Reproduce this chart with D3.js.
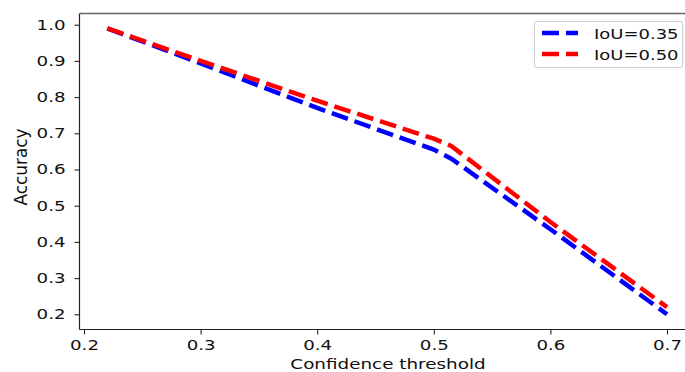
<!DOCTYPE html>
<html><head><meta charset="utf-8">
<script src="https://cdn.jsdelivr.net/npm/d3@7"></script>
<style>body{margin:0;background:#fff}svg{display:block}text{font-family:"DejaVu Sans",sans-serif;fill:#111}</style>
</head><body><svg id="c" width="685" height="372"></svg>
<script>
const thresholds = [0.22, 0.30, 0.40, 0.50, 0.515, 0.60, 0.70];
const acc035 = [0.99, 0.893, 0.77, 0.655, 0.63, 0.435, 0.20];
const acc050 = [0.99, 0.900, 0.79, 0.685, 0.665, 0.455, 0.22];
const seriesNames = ["IoU=0.35", "IoU=0.50"];
const seriesColors = ["#0000ff", "#ff0000"];
const xTicks = [0.2, 0.3, 0.4, 0.5, 0.6, 0.7];
const yTicks = [0.2, 0.3, 0.4, 0.5, 0.6, 0.7, 0.8, 0.9, 1.0];

const svg = d3.select("#c");
const L = 79.5, T = 13.5, B = 329.5, R = 720;
const x = d3.scaleLinear().domain([0.2, 0.7]).range([84, 667]);
const y = d3.scaleLinear().domain([0.2, 1.0]).range([314.3, 24.7]);

function stretch(sel, k){
  sel.each(function(){ const w = this.getComputedTextLength();
    d3.select(this).attr("textLength", w*k).attr("lengthAdjust","spacingAndGlyphs"); });
}

const series = [acc035, acc050];
const line = d3.line().x((d,i)=>x(thresholds[i])).y(d=>y(d));
series.forEach((s,k)=>{
  svg.append("path").datum(s).attr("d", line).attr("fill","none")
    .attr("stroke", seriesColors[k]).attr("stroke-width",4.5)
    .attr("stroke-dasharray","17,7");
});

// spines
svg.append("line").attr("x1",L).attr("x2",L).attr("y1",T).attr("y2",B).attr("stroke","#222").attr("stroke-width",1.2);
svg.append("line").attr("x1",L).attr("x2",R).attr("y1",B).attr("y2",B).attr("stroke","#222").attr("stroke-width",1.2);
svg.append("line").attr("x1",L).attr("x2",R).attr("y1",T).attr("y2",T).attr("stroke","#666").attr("stroke-width",1.5);

const xa = svg.append("g").attr("transform",`translate(0,${B})`)
  .call(d3.axisBottom(x).tickValues(xTicks).tickFormat(d3.format(".1f")).tickSize(5).tickPadding(6));
const ya = svg.append("g").attr("transform",`translate(${L},0)`)
  .call(d3.axisLeft(y).tickValues(yTicks).tickFormat(d3.format(".1f")).tickSize(5).tickPadding(9));
[xa,ya].forEach(a=>{
  a.select(".domain").remove();
  a.selectAll(".tick line").attr("stroke","#222").attr("stroke-width",1.1);
  a.selectAll("text").style("font-family","DejaVu Sans").style("font-size","14px").attr("fill","#111");
  stretch(a.selectAll("text"), 1.3);
});

const xl = svg.append("text").attr("x",388).attr("y",369).attr("text-anchor","middle")
  .style("font-size","14px").text("Confidence threshold");
stretch(xl, 1.31);
svg.append("text").attr("transform","translate(27,167) rotate(-90) scale(1,1.3)").attr("text-anchor","middle")
  .style("font-size","13px").attr("textLength",77).attr("lengthAdjust","spacingAndGlyphs").text("Accuracy");

// legend
const lg = svg.append("g");
lg.append("rect").attr("x",534.5).attr("y",21.5).attr("width",148).attr("height",46).attr("rx",2)
  .attr("fill","#fff").attr("stroke","#ccc").attr("stroke-width",1);
seriesNames.forEach((n,k)=>{
  const yy = 33 + k*21;
  lg.append("line").attr("x1",542).attr("x2",578).attr("y1",yy).attr("y2",yy)
    .attr("stroke",seriesColors[k]).attr("stroke-width",4.5).attr("stroke-dasharray","17,7");
  const t = lg.append("text").attr("x",594).attr("y",yy+5.5).style("font-size","14.5px").text(n);
  stretch(t, 1.24);
});
</script></body></html>
